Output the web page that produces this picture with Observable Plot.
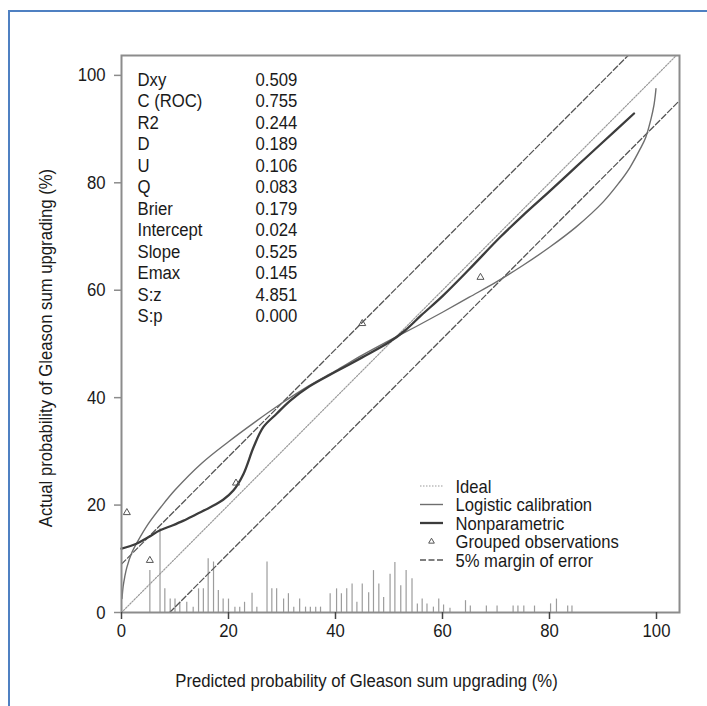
<!DOCTYPE html>
<html><head><meta charset="utf-8">
<script src="https://cdn.jsdelivr.net/npm/d3@7"></script>
<script src="https://cdn.jsdelivr.net/npm/@observablehq/plot@0.6"></script>
<style>
body{margin:0;background:#fff;}
#wrap{position:relative;width:707px;height:706px;overflow:hidden;background:#fff;}
#border{position:absolute;left:8px;top:10px;width:760px;height:760px;border-top:2px solid #4f80c2;border-left:2px solid #4f80c2;}
#chart{position:absolute;left:0;top:0;}
</style></head><body>
<div id="wrap"><div id="border"></div><div id="chart"></div></div>
<script>
const FONT = '"Liberation Sans Narrow","Arial Narrow","Liberation Sans",Arial,sans-serif';

const statLabels = ["Dxy","C (ROC)","R2","D","U","Q","Brier","Intercept","Slope","Emax","S:z","S:p"];
const statValues = ["0.509","0.755","0.244","0.189","0.106","0.083","0.179","0.024","0.525","0.145","4.851","0.000"];
const legendLabels = ["Ideal","Logistic calibration","Nonparametric","Grouped observations","5% margin of error"];
const xTicks = [0,20,40,60,80,100];
const yTicks = [0,20,40,60,80,100];
const xLabel = "Predicted probability of Gleason sum upgrading (%)";
const yLabel = "Actual probability of Gleason sum upgrading (%)";

// logistic calibration curve (predicted %, actual %)
const logisticX = [0.1,0.3,0.6,1,2,3,5,7.5,10,15,20,25,30,35,40,45,50,55,60,65,70,75,80,85,90,93,95,97,98,99,99.5,99.8,99.9];
const logisticY = [2.6,4.8,6.6,8.4,11.3,13.2,16.5,19.8,22.8,27.8,31.8,35.5,39.0,42.2,45.0,47.9,50.6,53.2,55.9,58.7,61.5,64.6,68.0,71.8,76.4,80.0,82.8,86.4,88.5,92.0,94.3,96.5,97.5];

// nonparametric curve
const nonparX = [0,2.8,5,7.2,9.5,11.6,14,16.6,19,20.9,22.8,24.7,26.5,29,31.5,35,40,45,50,53,56,60,65,70.8,75,80,85,90,95.8];
const nonparY = [11.9,12.8,14.0,15.3,16.2,17.1,18.3,19.6,21.0,22.7,25.8,30.8,34.5,37.0,39.4,42.0,44.8,47.5,50.3,52.5,55.3,58.9,63.9,69.9,73.9,78.4,83.0,87.6,92.9];

// grouped observations
const groupedX = [1.0,5.3,21.4,45.0,67.1];
const groupedY = [18.6,9.7,24.1,53.8,62.4];

// ideal and 5% margin lines (endpoints)
const idealX = [0,104.3];
const idealY = [0,104.3];
const upperMarginX = [0,95];
const upperMarginY = [9,104];
const lowerMarginX = [9,104.3];
const lowerMarginY = [0,95.3];

// spike histogram of predicted values (position %, height)
const spikeX = [5.3,7.2,8.1,9.1,10.0,10.9,12.2,13.4,14.4,15.3,16.2,17.2,18.1,19.0,20.0,21.2,22.1,23.0,24.4,25.3,27.2,28.1,29.0,30.3,31.2,32.2,33.3,34.4,35.3,36.3,37.2,39.0,40.2,41.1,42.1,43.1,44.0,45.0,46.2,47.1,48.1,49.0,50.2,51.1,52.2,53.2,54.3,55.3,56.2,57.1,58.3,59.3,60.2,61.4,64.3,65.2,68.2,70.2,73.2,74.1,75.2,77.2,80.2,81.3,83.4,84.2];
const spikeH = [7.8,15.6,4.4,2.5,2.5,1.9,1.9,1.0,4.4,4.4,10.0,9.4,4.1,2.5,2.5,1.0,1.0,1.9,3.6,1.0,9.4,4.4,4.4,2.5,3.5,1.0,2.5,1.0,1.0,1.0,1.0,3.5,4.4,3.5,4.4,5.3,1.9,5.3,3.7,7.8,5.3,2.8,7.1,9.3,5.0,7.8,6.3,1.6,2.5,1.6,1.0,2.5,1.4,0.8,2.2,1.2,1.2,1.2,1.2,1.2,1.2,1.2,1.6,2.5,1.2,1.2];

const toPts = (xs, ys) => xs.map((x, i) => ({x, y: ys[i]}));
const logistic = toPts(logisticX, logisticY);
const nonpar = toPts(nonparX, nonparY);
const grouped = toPts(groupedX, groupedY);
const ideal = toPts(idealX, idealY);
const upperMargin = toPts(upperMarginX, upperMarginY);
const lowerMargin = toPts(lowerMarginX, lowerMarginY);
const spikes = spikeX.map((x, i) => ({x, h: spikeH[i]}));

const FS = 19;
const LFS = 17.5;
const SQUEEZE = 0.88;
const LSQUEEZE = 0.95;
const chart = Plot.plot({
  width: 707,
  height: 706,
  marginLeft: 121,
  marginRight: 28,
  marginTop: 55,
  marginBottom: 94,
  style: {fontFamily: FONT, fontSize: FS + "px", color: "#1a1a1a", background: "transparent", overflow: "visible"},
  x: {domain: [0, 104.3]},
  y: {domain: [0, 103.7]},
  marks: [
    Plot.ruleX(spikes, {x: "x", y1: 0, y2: "h", stroke: "#9c9c9c", strokeWidth: 1.2}),
    Plot.line(ideal, {x: "x", y: "y", stroke: "#9a9a9a", strokeWidth: 1.2, strokeDasharray: "1.5,1.5", clip: true}),
    Plot.line(upperMargin, {x: "x", y: "y", stroke: "#555", strokeWidth: 1.3, strokeDasharray: "6,2.5", clip: true}),
    Plot.line(lowerMargin, {x: "x", y: "y", stroke: "#555", strokeWidth: 1.3, strokeDasharray: "6,2.5", clip: true}),
    Plot.line(logistic, {x: "x", y: "y", stroke: "#6e6e6e", strokeWidth: 1.4, curve: "catmull-rom"}),
    Plot.line(nonpar, {x: "x", y: "y", stroke: "#3c3c3c", strokeWidth: 2.3, curve: "catmull-rom"}),
    Plot.dot(grouped, {x: "x", y: "y", symbol: "triangle", r: 2.6, stroke: "#555", strokeWidth: 1, fill: "none"}),
    Plot.frame({stroke: "#8c8c8c", strokeWidth: 2}),
    Plot.axisX({ticks: xTicks, tickSize: 7, tickPadding: 4, label: null, stroke: "#444", strokeWidth: 1.5, fontSize: FS}),
    Plot.axisY({ticks: yTicks, tickSize: 7, tickPadding: 9, label: null, stroke: "#8c8c8c", strokeWidth: 1.5, fontSize: FS}),
    Plot.text([statLabels.join("\n")], {frameAnchor: "top-left", dx: 16, dy: 15, lineAnchor: "top", textAnchor: "start", lineHeight: 21.5 / FS, fontSize: FS, fill: "#1a1a1a"}),
    Plot.text([statValues.join("\n")], {frameAnchor: "top-left", dx: 134, dy: 15, lineAnchor: "top", textAnchor: "start", lineHeight: 21.5 / FS, fontSize: FS, fill: "#1a1a1a"}),
    Plot.text([legendLabels.join("\n")], {frameAnchor: "top-left", dx: 334, dy: 424, lineAnchor: "top", textAnchor: "start", lineHeight: 18.5 / LFS, fontSize: LFS, fill: "#1a1a1a"}),
    Plot.text([xLabel], {frameAnchor: "bottom", dx: -34, dy: 68, lineAnchor: "middle", textAnchor: "middle", fontSize: FS, fill: "#1a1a1a"}),
    Plot.text([yLabel], {frameAnchor: "left", dx: -76, dy: 14, rotate: -90, lineAnchor: "middle", textAnchor: "middle", fontSize: FS, fill: "#1a1a1a"})
  ]
});
document.getElementById("chart").appendChild(chart);

// condense text horizontally (narrow sans look)
chart.querySelectorAll("text").forEach((t) => {
  const s = t.textContent.startsWith("Ideal") ? LSQUEEZE : SQUEEZE;
  const tr = t.getAttribute("transform");
  if (tr) {
    t.setAttribute("transform", tr + ` scale(${s},1)`);
  } else {
    const x = +t.getAttribute("x") || 0;
    t.setAttribute("transform", `translate(${x},0) scale(${s},1) translate(${-x},0)`);
  }
});

// legend glyphs
const svg = d3.select(chart);
const g = svg.append("g");
const lx1 = 420, lx2 = 443, ly0 = 486, lstep = 18.5;
const glyphs = [
  {stroke: "#9a9a9a", w: 1.2, dash: "1.5,1.5"},
  {stroke: "#6e6e6e", w: 1.4, dash: null},
  {stroke: "#3c3c3c", w: 2.3, dash: null},
  null,
  {stroke: "#555", w: 1.3, dash: "6,2.5"}
];
glyphs.forEach((s, i) => {
  const y = ly0 + i * lstep;
  if (s) {
    g.append("line").attr("x1", lx1).attr("x2", lx2).attr("y1", y).attr("y2", y)
      .attr("stroke", s.stroke).attr("stroke-width", s.w).attr("stroke-dasharray", s.dash);
  } else {
    g.append("path").attr("d", d3.symbol(d3.symbolTriangle, 14)()).attr("transform", `translate(${(lx1+lx2)/2},${y})`)
      .attr("fill", "none").attr("stroke", "#555");
  }
});
</script>
</body></html>
